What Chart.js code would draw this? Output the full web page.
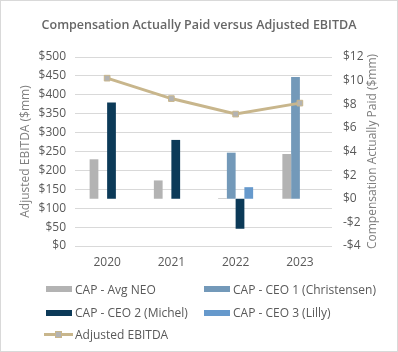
<!DOCTYPE html>
<html>
<head>
<meta charset="utf-8">
<script src="https://cdn.jsdelivr.net/npm/chart.js@4.4.1/dist/chart.umd.min.js"></script>
<style>
  html, body { margin: 0; padding: 0; background: #fff; }
  #box { position: relative; width: 396px; height: 350px; border: 1px solid #d9d9d9; font-family: "Open Sans", sans-serif; }
  #wrap { position: absolute; left: -1px; top: -1px; width: 398px; height: 352px; }
  #legend { position: absolute; left: 0; top: 0; width: 398px; height: 352px; pointer-events: none; }
  .item { position: absolute; height: 16px; display: flex; align-items: center; font-size: 12px; color: #595959; white-space: nowrap; }
  .swatch { width: 26px; height: 6px; margin-right: 3px; }
  .lineSw { position: relative; width: 29px; height: 3px; margin-right: 2px; }
  .lineSw i { position: absolute; left: 11px; top: -2px; width: 7px; height: 7px; box-sizing: border-box; }
</style>
</head>
<body>
<div id="box">
  <div id="wrap"><canvas id="myChart" width="398" height="352"></canvas></div>
  <div id="legend"></div>
</div>
<script>
  const years = ['2020', '2021', '2022', '2023'];
  const capAvgNeo = [3.34, 1.55, 0.05, 3.79];
  const capCeo1 = [null, null, 3.9, 10.3];
  const capCeo2 = [8.15, 4.98, -2.54, null];
  const capCeo3 = [null, null, 0.98, null];
  const adjEbitda = [444, 390, 349, 378];
  const leftTicks = [0, 50, 100, 150, 200, 250, 300, 350, 400, 450, 500];
  const rightTicks = [-4, -2, 0, 2, 4, 6, 8, 10, 12];

  const money = v => (v < 0 ? '-$' + Math.abs(v) : '$' + v);

  // right axis title reads bottom-to-top in the original
  const rightTitle = {
    id: 'rightTitle',
    afterDraw(chart) {
      const c = chart.ctx;
      const a = chart.chartArea;
      c.save();
      c.translate(373, (a.top + a.bottom) / 2);
      c.rotate(-Math.PI / 2);
      c.fillStyle = '#7f7f7f';
      c.font = '12px "Open Sans"';
      c.textAlign = 'center';
      c.textBaseline = 'middle';
      c.fillText('Compensation Actually Paid ($mm)', 0, 0);
      c.restore();
    }
  };

  const ctx = document.getElementById('myChart');
  const chart = new Chart(ctx, {
    data: {
      labels: years,
      datasets: [
        { type: 'bar', label: 'CAP - Avg NEO', data: capAvgNeo, yAxisID: 'y1', backgroundColor: '#b3b3b3', order: 2 },
        { type: 'bar', label: 'CAP - CEO 1 (Christensen)', data: capCeo1, yAxisID: 'y1', backgroundColor: '#7399b9', order: 2 },
        { type: 'bar', label: 'CAP - CEO 2 (Michel)', data: capCeo2, yAxisID: 'y1', backgroundColor: '#0c3a58', order: 2 },
        { type: 'bar', label: 'CAP - CEO 3 (Lilly)', data: capCeo3, yAxisID: 'y1', backgroundColor: '#6699cc', order: 2 },
        {
          type: 'line', label: 'Adjusted EBITDA', data: adjEbitda, yAxisID: 'y', order: 1,
          borderColor: '#c8b68c', borderWidth: 3, pointStyle: 'rect', pointRadius: 4,
          pointBackgroundColor: '#b3b3b3', pointBorderColor: '#c8b68c', pointBorderWidth: 1
        }
      ]
    },
    options: {
      responsive: false,
      animation: false,
      layout: { padding: { left: 0, right: 0, top: 0, bottom: 76 } },
      datasets: { bar: { categoryPercentage: 0.545, barPercentage: 1, grouped: true } },
      plugins: {
        legend: { display: false },
        tooltip: { enabled: false },
        title: {
          display: true,
          text: 'Compensation Actually Paid versus Adjusted EBITDA',
          color: '#666666',
          font: { family: 'Open Sans', size: 12.5, weight: '600' },
          padding: { top: 18, bottom: 24 }
        }
      },
      scales: {
        x: {
          grid: { display: false, drawTicks: false },
          border: { display: false },
          ticks: { color: '#595959', font: { family: 'Open Sans', size: 12 }, padding: 9 },
          afterFit: s => { s.height = 30; }
        },
        y: {
          position: 'left',
          min: 0, max: 500,
          afterBuildTicks: s => { s.ticks = leftTicks.map(v => ({ value: v })); },
          grid: { color: '#d9d9d9', drawTicks: false },
          border: { display: false },
          ticks: { color: '#595959', font: { family: 'Open Sans', size: 12 }, padding: 9, callback: money },
          title: { display: true, text: 'Adjusted EBITDA ($mm)', color: '#7f7f7f', font: { family: 'Open Sans', size: 12 }, padding: { top: 18, bottom: 0 } },
          afterFit: s => { s.width = 75; }
        },
        y1: {
          position: 'right',
          min: -4, max: 12,
          afterBuildTicks: s => { s.ticks = rightTicks.map(v => ({ value: v })); },
          grid: { display: false, drawTicks: false },
          border: { display: false },
          ticks: { color: '#595959', font: { family: 'Open Sans', size: 12 }, padding: 11, callback: money },
          afterFit: s => { s.width = 66; }
        }
      }
    },
    plugins: [rightTitle]
  });

  // legend in two columns like the original
  const legend = document.getElementById('legend');
  const spots = [[45, 288], [203, 288], [45, 311.5], [203, 311.5], [43, 333.5]];
  chart.data.datasets.forEach((ds, i) => {
    const el = document.createElement('div');
    el.className = 'item';
    el.style.left = spots[i][0] + 'px';
    el.style.top = (spots[i][1] - 8) + 'px';
    if (ds.type === 'line') {
      el.innerHTML = '<span class="lineSw" style="background:' + ds.borderColor + '"><i style="background:' +
        ds.pointBackgroundColor + ';border:1px solid ' + ds.pointBorderColor + '"></i></span>';
    } else {
      el.innerHTML = '<span class="swatch" style="background:' + ds.backgroundColor + '"></span>';
    }
    el.appendChild(document.createTextNode(ds.label));
    legend.appendChild(el);
  });
</script>
</body>
</html>
